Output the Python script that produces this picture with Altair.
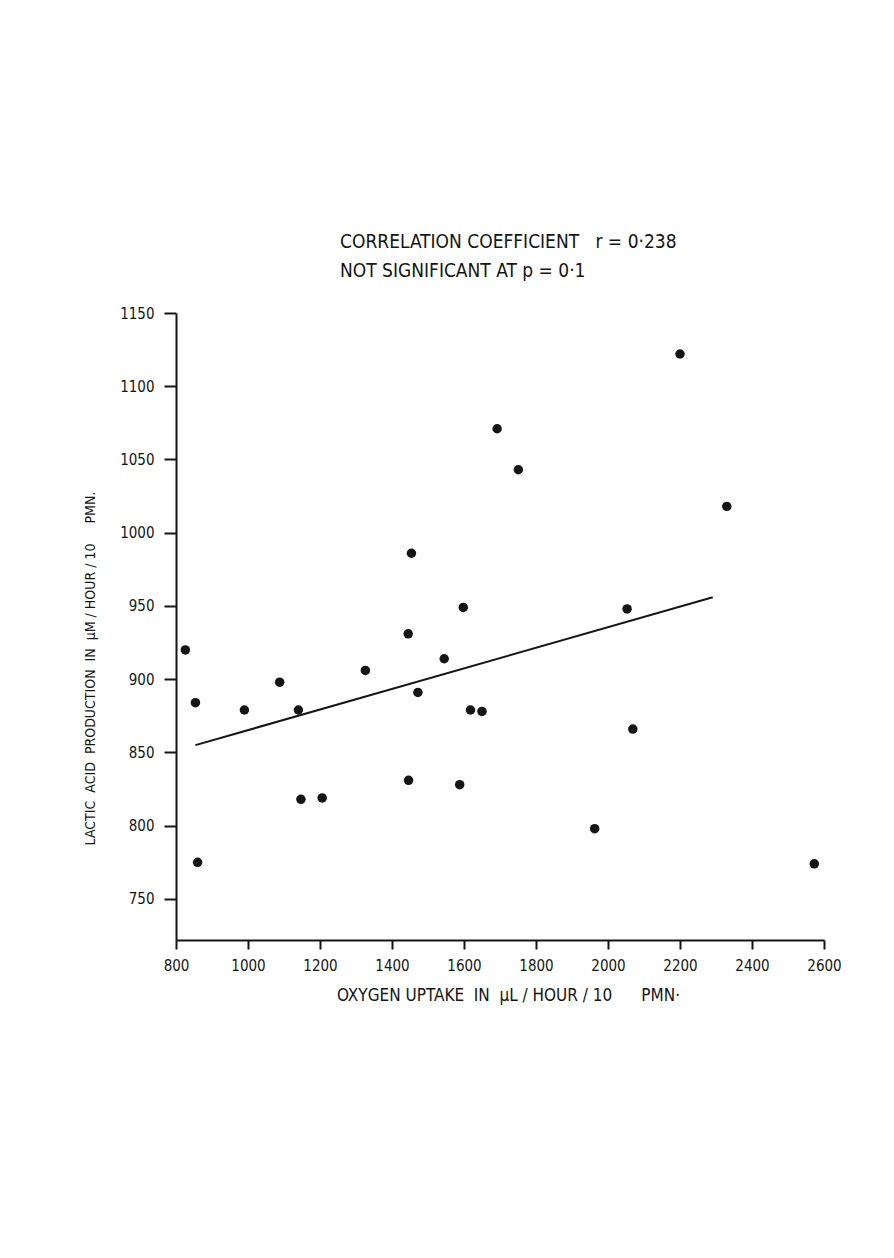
import altair as alt
import pandas as pd

# Data
oxygen_uptake = [826, 854, 860, 990, 1088, 1140, 1147, 1206, 1326, 1445,
                 1446, 1454, 1472, 1545, 1588, 1598, 1618, 1650, 1692, 1751,
                 1963, 2053, 2069, 2200, 2330, 2573]
lactic_acid = [920, 884, 775, 879, 898, 879, 818, 819, 906, 931,
               831, 986, 891, 914, 828, 949, 879, 878, 1071, 1043,
               798, 948, 866, 1122, 1018, 774]

# Regression line end points
line_x = [854, 2291]
line_y = [855, 956]

x_ticks = [800, 1000, 1200, 1400, 1600, 1800, 2000, 2200, 2400, 2600]
y_ticks = [750, 800, 850, 900, 950, 1000, 1050, 1100, 1150]

NB = "\u00a0"
title_lines = [f"CORRELATION COEFFICIENT{NB*3}r = 0·238", "NOT SIGNIFICANT AT p = 0·1"]
x_title = f"OXYGEN UPTAKE{NB*2}IN{NB*2}μL / HOUR / 10{NB*6}PMN·"
y_title = f"LACTIC{NB*2}ACID{NB*2}PRODUCTION{NB*2}IN{NB*2}μM / HOUR / 10{NB*5}PMN."

FONT = "Liberation Sans Narrow, DejaVu Sans Condensed, sans-serif"
INK = "#151515"

pts = pd.DataFrame({"x": oxygen_uptake, "y": lactic_acid})
reg = pd.DataFrame({"x": line_x, "y": line_y})

xscale = alt.Scale(domain=[800, 2600], nice=False, zero=False)
yscale = alt.Scale(domain=[722, 1150], nice=False, zero=False)

xaxis = alt.Axis(values=x_ticks, title=x_title, grid=False, format="d",
                 tickSize=9, labelPadding=9, labelFlush=False,
                 titleX=332, titleY=55,
                 titleAnchor="middle", titleAlign="center", titleBaseline="middle")
yaxis = alt.Axis(values=y_ticks, title=y_title, grid=False, format="d",
                 tickSize=12, labelPadding=10, labelFlush=False,
                 titleX=-86, titleY=355,
                 titleAngle=-90, titleAlign="center", titleBaseline="middle")

points = alt.Chart(pts).mark_circle(size=90, color=INK, opacity=1).encode(
    x=alt.X("x:Q", scale=xscale, axis=xaxis),
    y=alt.Y("y:Q", scale=yscale, axis=yaxis),
)

line = alt.Chart(reg).mark_line(color=INK, strokeWidth=2).encode(
    x=alt.X("x:Q", scale=xscale),
    y=alt.Y("y:Q", scale=yscale),
)

chart = alt.layer(line, points).properties(
    width=648,
    height=627,
    background="white",
    title=alt.TitleParams(text=title_lines, anchor="start", frame="group", dx=164, offset=25,
                          font=FONT, fontSize=19, fontWeight="normal", color=INK,
                          lineHeight=29, align="left"),
    autosize=alt.AutoSizeParams(type="none"),
    padding={"left": 168, "top": 305, "right": 62, "bottom": 300},
).configure_view(stroke=None).configure_axis(
    domainColor=INK, domainWidth=2, tickColor=INK, tickWidth=2,
    labelFont=FONT, labelFontSize=15, labelColor=INK,
    titleFont=FONT, titleColor=INK, titleFontWeight="normal",
).configure_axisX(titleFontSize=17).configure_axisY(titleFontSize=14)

chart.save("out.html", embed_options={"renderer": "svg", "actions": False})
